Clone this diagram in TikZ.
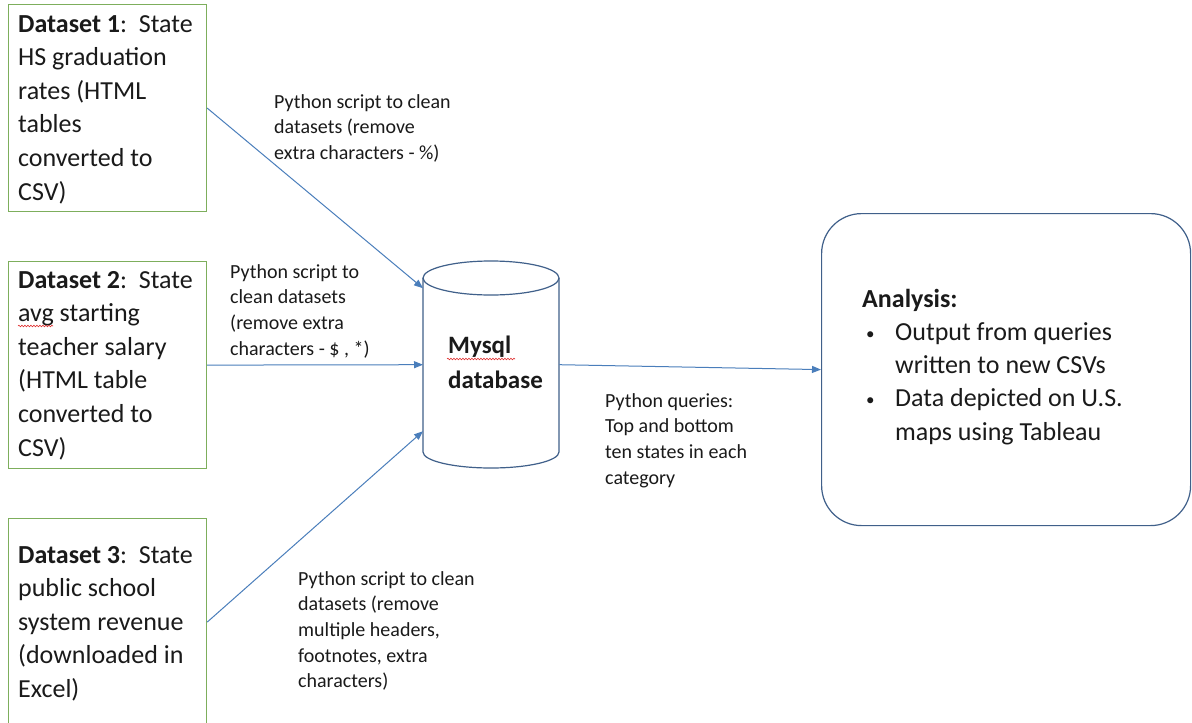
\documentclass[tikz,border=0pt]{standalone}
\usepackage{fontspec}
\setmainfont{Carlito}
\usetikzlibrary{arrows.meta,decorations.pathmorphing,calc}
\definecolor{arrowblue}{HTML}{4A7EBB}
\definecolor{boxgreen}{HTML}{7DAE5C}
\definecolor{shapeblue}{HTML}{40608A}
\definecolor{inkcol}{HTML}{1A1A1A}
\definecolor{squig}{HTML}{E03030}
\newcommand\linesbox[1]{\parbox[t]{400pt}{\raggedright #1}}
\newcommand\smallbul{\makebox[29pt][l]{\raisebox{1pt}{\fontsize{17}{17}\selectfont •}}}
\begin{document}
\begin{tikzpicture}[x=1pt,y=-1pt,
  dsbox/.style={draw=boxgreen, line width=1.2pt, minimum width=198pt, minimum height=207pt, anchor=north west, inner sep=0pt, fill=white},
  txt/.style={anchor=base west, inner sep=0pt, text=inkcol},
  bigtxt/.style={txt, font=\fontsize{26}{33.6}\selectfont},
  smalltxt/.style={txt, font=\fontsize{20}{25.7}\selectfont},
  flow/.style={draw=arrowblue, line width=1pt, -{Triangle[length=9pt,width=7pt]}},
  spell/.style={draw=squig, line width=0.6pt, decorate, decoration={snake, amplitude=0.8pt, segment length=3pt}}
]
\useasboundingbox (0,0) rectangle (1192,723);
\fill[white] (0,0) rectangle (1192,723);

% dataset boxes
\node[dsbox] (d1) at (8,4) {};
\node[dsbox] (d2) at (8,261) {};
\node[dsbox] (d3) at (8,518) {};
\node[bigtxt] (t1) at (18,32) {\linesbox{\textbf{Dataset 1}:\ \ State\\HS graduation\\rates (HTML\\tables\\converted to\\CSV)}};
\node[bigtxt] (t2) at (18,288) {\linesbox{\textbf{Dataset 2}:\ \ State\\avg starting\\teacher salary\\(HTML table\\converted to\\CSV)}};
\node[bigtxt] (t3) at (18,563) {\linesbox{\textbf{Dataset 3}:\ \ State\\public school\\system revenue\\(downloaded in\\Excel)}};
\draw[spell] (18,326) -- (53,326);

% database cylinder
\node[minimum width=136pt, minimum height=207pt, inner sep=0pt, anchor=north west] (db) at (423,261) {};
\filldraw[fill=white, draw=shapeblue, line width=1.2pt]
  (423,278) -- (423,452) arc[start angle=180, end angle=360, x radius=68pt, y radius=16pt] -- (559,278);
\draw[shapeblue, line width=1.2pt] (491,278) ellipse [x radius=68pt, y radius=17pt];
\node[txt, font=\fontsize{25}{35}\selectfont\bfseries] (dbt) at (448,353) {\linesbox{Mysql\\database}};
\draw[spell] (447,359) -- (515,359);

% analysis box
\node[draw=shapeblue, line width=1.2pt, rounded corners=40pt, minimum width=369pt, minimum height=312pt, anchor=north west, inner sep=0pt] (an) at (821,213) {};
\node[txt, font=\fontsize{26}{33.3}\selectfont] (ant) at (862,307) {\linesbox{\textbf{Analysis:}\\\hspace*{4pt}\smallbul Output from queries\\\hspace*{33pt}written to new CSVs\\\hspace*{4pt}\smallbul Data depicted on U.S.\\\hspace*{33pt}maps using Tableau}};

% labels
\node[smalltxt] (l1) at (274,108) {\linesbox{Python script to clean\\datasets (remove\\extra characters - \%)}};
\node[smalltxt] (l2) at (230,278) {\linesbox{Python script to\\clean datasets\\(remove extra\\characters - \$ , *)}};
\node[smalltxt] (l3) at (298,585) {\linesbox{Python script to clean\\datasets (remove\\multiple headers,\\footnotes, extra\\characters)}};
\node[smalltxt] (l4) at (605,407) {\linesbox{Python queries:\\Top and bottom\\ten states in each\\category}};

% connectors
\draw[flow] (d1.east) -- ([yshift=76.5pt]db.west);
\draw[flow] (d2.east) -- (db.west);
\draw[flow] (d3.east) -- ([yshift=-66.5pt]db.west);
\draw[flow] (db.east) -- (an.west);
\end{tikzpicture}
\end{document}
